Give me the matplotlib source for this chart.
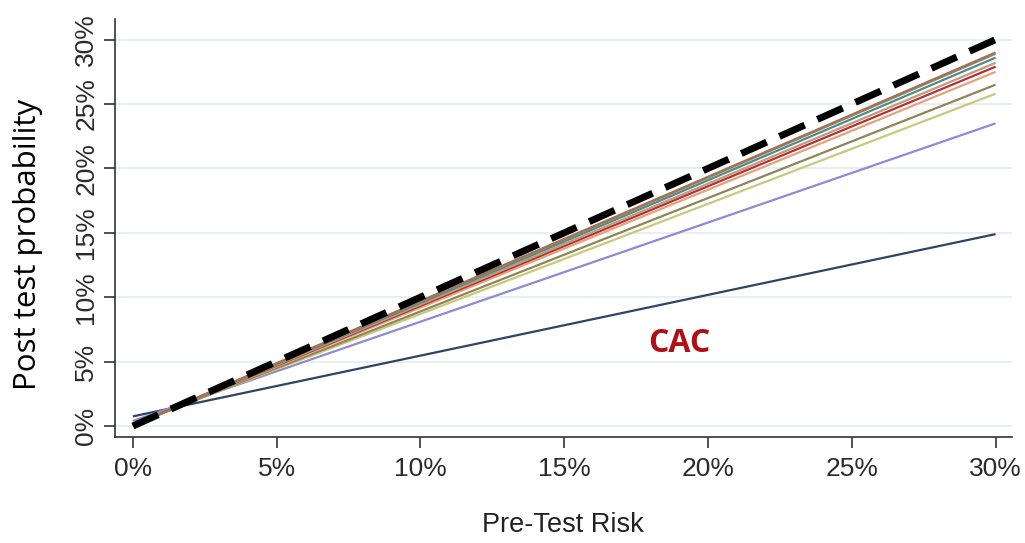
import matplotlib.pyplot as plt
from matplotlib.ticker import FuncFormatter

# pre-test risk endpoints (%)
risk = [0, 30]

# post-test probability at 0% and 30% pre-test risk, one line per test
lines = [
    ('CAC',     [0.75, 14.9], '#2e4466'),
    ('purple',  [0.40, 23.5], '#8f8ad4'),
    ('yellow',  [0.15, 25.8], '#c9c97e'),
    ('olive',   [0.10, 26.5], '#8e8658'),
    ('orange',  [0.05, 27.5], '#e3a47a'),
    ('red',     [0.05, 27.9], '#b2303a'),
    ('tan',     [0.05, 28.2], '#c49a78'),
    ('teal',    [0.05, 28.6], '#4e8c86'),
    ('gray',    [0.05, 28.9], '#8b8b8b'),
    ('brown',   [0.05, 29.0], '#a4724e'),
]
ref_line = [0, 30]

ticks = [0, 5, 10, 15, 20, 25, 30]

fig = plt.figure(figsize=(10.25, 5.43), dpi=100)
ax = fig.add_axes([0.112, 0.195, 0.875, 0.77])

for y in ticks:
    ax.axhline(y, color='#e3ecf0', lw=1.2, zorder=0)

for name, vals, col in lines:
    ax.plot(risk, vals, color=col, lw=1.6, solid_capstyle='butt')

ax.plot(risk, ref_line, color='black', lw=5, dashes=(4, 2), solid_capstyle='butt')

ax.text(17.9, 5.75, 'CAC', color='#b00e14', fontsize=23, fontweight='bold',
        family='Open Sans')

ax.set_xlim(-0.63, 30.56)
ax.set_ylim(-0.86, 31.6)
ax.set_xticks(ticks)
ax.set_yticks(ticks)
fmt = FuncFormatter(lambda v, p: '%d%%' % v)
ax.xaxis.set_major_formatter(fmt)
ax.yaxis.set_major_formatter(fmt)
ax.tick_params(axis='both', labelsize=19, length=8, width=1.2, color='#333333',
               labelcolor='#2a2a2a')
ax.tick_params(axis='x', pad=6)
ax.tick_params(axis='y', pad=4)
for lab in ax.get_xticklabels() + ax.get_yticklabels():
    lab.set_family('Liberation Sans')
for lab in ax.get_yticklabels():
    lab.set_rotation(90)
    lab.set_va('center')
ax.spines['top'].set_visible(False)
ax.spines['right'].set_visible(False)
for s in ['left', 'bottom']:
    ax.spines[s].set_linewidth(1.2)
    ax.spines[s].set_color('#333333')

ax.set_xlabel('Pre-Test Risk', fontsize=19.5, family='Liberation Sans', color='#222222')
ax.xaxis.set_label_coords(0.5, -0.18)
ax.set_ylabel('Post test probability', fontsize=22.5, family='Open Sans')
ax.yaxis.set_label_coords(-0.08, 0.46)

plt.savefig('out.png', dpi=100)
